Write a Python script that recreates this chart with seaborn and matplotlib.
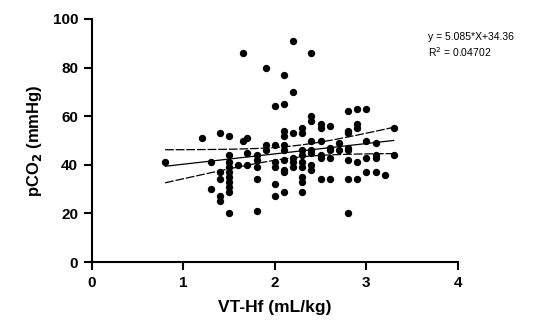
import numpy as np
import pandas as pd
import matplotlib
matplotlib.use("Agg")
import matplotlib.pyplot as plt
import seaborn as sns

# VT-Hf (mL/kg) columns and the pCO2 values
vt_groups = [0.8, 1.2, 1.3, 1.4, 1.5, 1.6, 1.65, 1.7, 1.8, 1.9, 2.0, 2.1,
             2.2, 2.3, 2.4, 2.5, 2.6, 2.7, 2.8, 2.9, 3.0, 3.1, 3.2, 3.3]
pco2_groups = [
    [41],
    [51],
    [41, 30],
    [53, 37, 34, 27, 25],
    [52, 44, 41, 39, 37, 35, 33, 31, 29, 20],
    [40],
    [86, 50],
    [51, 45, 40],
    [44, 42, 39, 34, 21],
    [80, 48, 46],
    [64, 48, 41, 39, 32, 27],
    [77, 65, 54, 52, 48, 46, 42, 38, 37, 29],
    [91, 70, 53, 43, 41, 39],
    [55, 53, 46, 44, 41, 39, 35, 33, 29],
    [86, 60, 58, 50, 46, 45, 40, 38],
    [57, 55, 50, 44, 43, 34],
    [56, 47, 46, 43, 34],
    [49, 46],
    [62, 54, 53, 47, 46, 42, 34, 20],
    [63, 57, 55, 41, 34],
    [63, 50, 43, 37],
    [49, 44, 43, 37],
    [36],
    [55, 44],
]
eq_text = "y = 5.085*X+34.36"
r2_text = "R$^2$ = 0.04702"

vt = np.concatenate([[g] * len(v) for g, v in zip(vt_groups, pco2_groups)])
pco2 = np.concatenate(pco2_groups).astype(float)
df = pd.DataFrame({"vt": vt, "pco2": pco2})

# linear fit with 95% confidence band
n = len(df)
slope, intercept = np.polyfit(df.vt, df.pco2, 1)
resid = df.pco2 - (slope * df.vt + intercept)
s = np.sqrt((resid ** 2).sum() / (n - 2))
sxx = ((df.vt - df.vt.mean()) ** 2).sum()
xs = np.linspace(df.vt.min(), df.vt.max(), 100)
ys = slope * xs + intercept
half = 1.98 * s * np.sqrt(1 / n + (xs - df.vt.mean()) ** 2 / sxx)

sns.set_style("ticks")
plt.rcParams["font.family"] = ["Liberation Sans", "DejaVu Sans"]
plt.rcParams.update({"text.color": "black", "axes.labelcolor": "black",
                     "xtick.color": "black", "ytick.color": "black",
                     "axes.edgecolor": "black"})

fig = plt.figure(figsize=(5.47, 3.33), dpi=100)
ax = fig.add_axes([0.168, 0.213, 0.669, 0.730])

sns.scatterplot(data=df, x="vt", y="pco2", ax=ax, color="black",
                s=28, edgecolor="black", linewidth=0, zorder=3)
ax.plot(xs, ys, color="black", lw=0.9, zorder=2)
ax.plot(xs, ys + half, color="black", lw=0.9, ls=(0, (7, 1.5)), zorder=2)
ax.plot(xs, ys - half, color="black", lw=0.9, ls=(0, (7, 1.5)), zorder=2)

ax.set_xlim(0, 4)
ax.set_ylim(0, 100)
ax.set_xticks([0, 1, 2, 3, 4])
ax.set_yticks([0, 20, 40, 60, 80, 100])
sns.despine(ax=ax)
for sp in ["left", "bottom"]:
    ax.spines[sp].set_linewidth(1.5)
ax.tick_params(width=1.5, length=6, labelsize=11, direction="out", pad=4)
for lab in ax.get_xticklabels() + ax.get_yticklabels():
    lab.set_fontweight("bold")

ax.set_xlabel("VT-Hf (mL/kg)", fontsize=12.5, fontweight="bold", labelpad=7)
ax.set_ylabel("pCO$_\\mathbf{2}$ (mmHg)", fontsize=12, fontweight="bold", labelpad=6)

fig.text(0.782, 0.889, eq_text, fontsize=7.5, va="center")
fig.text(0.782, 0.843, r2_text, fontsize=7.5, va="center")

fig.savefig("out.png", dpi=100)
